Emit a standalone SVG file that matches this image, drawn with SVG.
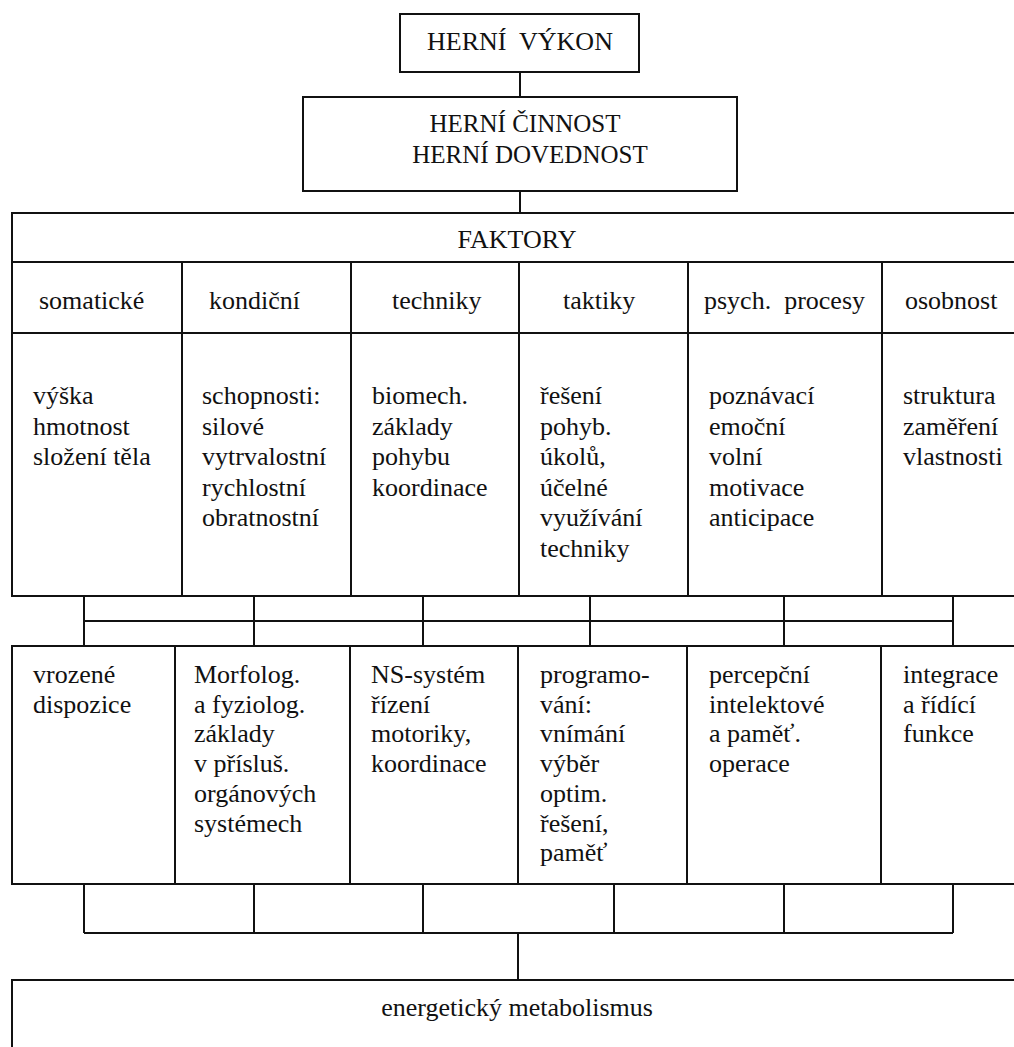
<svg xmlns="http://www.w3.org/2000/svg" width="1014" height="1047" viewBox="0 0 1014 1047">
<style>
rect{fill:none;stroke:#111;stroke-width:2}
line{stroke:#111;stroke-width:2}
.c{text-anchor:middle}
</style>
<rect x="0" y="0" width="1014" height="1047" style="fill:#fff;stroke:none"/>
<g id="connectors">
<line x1="520" y1="72" x2="520" y2="97"/>
<line x1="520" y1="191" x2="520" y2="213"/>
<line x1="84" y1="621" x2="953" y2="621"/>
<line x1="84" y1="597" x2="84" y2="646"/>
<line x1="254" y1="597" x2="254" y2="646"/>
<line x1="423" y1="597" x2="423" y2="646"/>
<line x1="590" y1="597" x2="590" y2="646"/>
<line x1="784" y1="597" x2="784" y2="646"/>
<line x1="953" y1="597" x2="953" y2="646"/>
<line x1="84" y1="933" x2="953" y2="933"/>
<line x1="84" y1="884" x2="84" y2="933"/>
<line x1="254" y1="884" x2="254" y2="933"/>
<line x1="423" y1="884" x2="423" y2="933"/>
<line x1="614" y1="884" x2="614" y2="933"/>
<line x1="784" y1="884" x2="784" y2="933"/>
<line x1="953" y1="884" x2="953" y2="933"/>
<line x1="518" y1="933" x2="518" y2="980"/>
</g>
<g id="herni-vykon">
<rect x="400" y="14" width="239" height="58"/>
<text font-family="Liberation Serif" font-size="26" fill="#111" class="c" x="520" y="50" xml:space="preserve">HERNÍ  VÝKON</text>
</g>
<g id="herni-cinnost">
<rect x="303" y="97" width="434" height="94"/>
<text font-family="Liberation Serif" font-size="25" fill="#111" class="c" x="525" y="132">HERNÍ ČINNOST</text>
<text font-family="Liberation Serif" font-size="25" fill="#111" class="c" x="530" y="163">HERNÍ DOVEDNOST</text>
</g>
<g id="faktory">
<rect x="12" y="213" width="1012" height="49"/>
<text font-family="Liberation Serif" font-size="26" fill="#111" class="c" x="517" y="248">FAKTORY</text>
</g>
<g id="somaticke">
<rect x="12" y="262" width="170" height="71"/>
<rect x="12" y="333" width="170" height="263"/>
<text font-family="Liberation Serif" font-size="26" fill="#111" x="39" y="309">somatické</text>
<text font-family="Liberation Serif" font-size="26" fill="#111" x="33" y="404">výška</text>
<text font-family="Liberation Serif" font-size="26" fill="#111" x="33" y="434.5">hmotnost</text>
<text font-family="Liberation Serif" font-size="26" fill="#111" x="33" y="465">složení těla</text>
</g>
<g id="kondicni">
<rect x="182" y="262" width="169" height="71"/>
<rect x="182" y="333" width="169" height="263"/>
<text font-family="Liberation Serif" font-size="26" fill="#111" x="209" y="309">kondiční</text>
<text font-family="Liberation Serif" font-size="26" fill="#111" x="202" y="404">schopnosti:</text>
<text font-family="Liberation Serif" font-size="26" fill="#111" x="202" y="434.5">silové</text>
<text font-family="Liberation Serif" font-size="26" fill="#111" x="202" y="465">vytrvalostní</text>
<text font-family="Liberation Serif" font-size="26" fill="#111" x="202" y="495.5">rychlostní</text>
<text font-family="Liberation Serif" font-size="26" fill="#111" x="202" y="526">obratnostní</text>
</g>
<g id="techniky">
<rect x="351" y="262" width="168" height="71"/>
<rect x="351" y="333" width="168" height="263"/>
<text font-family="Liberation Serif" font-size="26" fill="#111" x="392" y="309">techniky</text>
<text font-family="Liberation Serif" font-size="26" fill="#111" x="372" y="404">biomech.</text>
<text font-family="Liberation Serif" font-size="26" fill="#111" x="372" y="434.5">základy</text>
<text font-family="Liberation Serif" font-size="26" fill="#111" x="372" y="465">pohybu</text>
<text font-family="Liberation Serif" font-size="26" fill="#111" x="372" y="495.5">koordinace</text>
</g>
<g id="taktiky">
<rect x="519" y="262" width="169" height="71"/>
<rect x="519" y="333" width="169" height="263"/>
<text font-family="Liberation Serif" font-size="26" fill="#111" x="563" y="309">taktiky</text>
<text font-family="Liberation Serif" font-size="26" fill="#111" x="540" y="404">řešení</text>
<text font-family="Liberation Serif" font-size="26" fill="#111" x="540" y="434.5">pohyb.</text>
<text font-family="Liberation Serif" font-size="26" fill="#111" x="540" y="465">úkolů,</text>
<text font-family="Liberation Serif" font-size="26" fill="#111" x="540" y="495.5">účelné</text>
<text font-family="Liberation Serif" font-size="26" fill="#111" x="540" y="526">využívání</text>
<text font-family="Liberation Serif" font-size="26" fill="#111" x="540" y="556.5">techniky</text>
</g>
<g id="psych-procesy">
<rect x="688" y="262" width="194" height="71"/>
<rect x="688" y="333" width="194" height="263"/>
<text font-family="Liberation Serif" font-size="26" fill="#111" x="704" y="309" xml:space="preserve">psych.  procesy</text>
<text font-family="Liberation Serif" font-size="26" fill="#111" x="709" y="404">poznávací</text>
<text font-family="Liberation Serif" font-size="26" fill="#111" x="709" y="434.5">emoční</text>
<text font-family="Liberation Serif" font-size="26" fill="#111" x="709" y="465">volní</text>
<text font-family="Liberation Serif" font-size="26" fill="#111" x="709" y="495.5">motivace</text>
<text font-family="Liberation Serif" font-size="26" fill="#111" x="709" y="526">anticipace</text>
</g>
<g id="osobnost">
<rect x="882" y="262" width="142" height="71"/>
<rect x="882" y="333" width="142" height="263"/>
<text font-family="Liberation Serif" font-size="26" fill="#111" x="905" y="309">osobnost</text>
<text font-family="Liberation Serif" font-size="26" fill="#111" x="903" y="404">struktura</text>
<text font-family="Liberation Serif" font-size="26" fill="#111" x="903" y="434.5">zaměření</text>
<text font-family="Liberation Serif" font-size="26" fill="#111" x="903" y="465">vlastnosti</text>
</g>
<g id="vrozene">
<rect x="12" y="646" width="163" height="238"/>
<text font-family="Liberation Serif" font-size="26" fill="#111" x="33" y="683">vrozené</text>
<text font-family="Liberation Serif" font-size="26" fill="#111" x="33" y="712.7">dispozice</text>
</g>
<g id="morfolog">
<rect x="175" y="646" width="175" height="238"/>
<text font-family="Liberation Serif" font-size="26" fill="#111" x="194" y="683">Morfolog.</text>
<text font-family="Liberation Serif" font-size="26" fill="#111" x="194" y="712.7">a fyziolog.</text>
<text font-family="Liberation Serif" font-size="26" fill="#111" x="194" y="742.4">základy</text>
<text font-family="Liberation Serif" font-size="26" fill="#111" x="194" y="772.1">v přísluš.</text>
<text font-family="Liberation Serif" font-size="26" fill="#111" x="194" y="801.8">orgánových</text>
<text font-family="Liberation Serif" font-size="26" fill="#111" x="194" y="831.5">systémech</text>
</g>
<g id="ns-system">
<rect x="350" y="646" width="168" height="238"/>
<text font-family="Liberation Serif" font-size="26" fill="#111" x="371" y="683">NS-systém</text>
<text font-family="Liberation Serif" font-size="26" fill="#111" x="371" y="712.7">řízení</text>
<text font-family="Liberation Serif" font-size="26" fill="#111" x="371" y="742.4">motoriky,</text>
<text font-family="Liberation Serif" font-size="26" fill="#111" x="371" y="772.1">koordinace</text>
</g>
<g id="programovani">
<rect x="518" y="646" width="169" height="238"/>
<text font-family="Liberation Serif" font-size="26" fill="#111" x="540" y="683">programo-</text>
<text font-family="Liberation Serif" font-size="26" fill="#111" x="540" y="712.7">vání:</text>
<text font-family="Liberation Serif" font-size="26" fill="#111" x="540" y="742.4">vnímání</text>
<text font-family="Liberation Serif" font-size="26" fill="#111" x="540" y="772.1">výběr</text>
<text font-family="Liberation Serif" font-size="26" fill="#111" x="540" y="801.8">optim.</text>
<text font-family="Liberation Serif" font-size="26" fill="#111" x="540" y="831.5">řešení,</text>
<text font-family="Liberation Serif" font-size="26" fill="#111" x="540" y="861.2">paměť</text>
</g>
<g id="percepcni">
<rect x="687" y="646" width="194" height="238"/>
<text font-family="Liberation Serif" font-size="26" fill="#111" x="709" y="683">percepční</text>
<text font-family="Liberation Serif" font-size="26" fill="#111" x="709" y="712.7">intelektové</text>
<text font-family="Liberation Serif" font-size="26" fill="#111" x="709" y="742.4">a paměť.</text>
<text font-family="Liberation Serif" font-size="26" fill="#111" x="709" y="772.1">operace</text>
</g>
<g id="integrace">
<rect x="881" y="646" width="143" height="238"/>
<text font-family="Liberation Serif" font-size="26" fill="#111" x="903" y="683">integrace</text>
<text font-family="Liberation Serif" font-size="26" fill="#111" x="903" y="712.7">a řídící</text>
<text font-family="Liberation Serif" font-size="26" fill="#111" x="903" y="742.4">funkce</text>
</g>
<g id="energeticky-metabolismus">
<rect x="12" y="980" width="1012" height="100"/>
<text font-family="Liberation Serif" font-size="26" fill="#111" class="c" x="517" y="1016">energetický metabolismus</text>
</g>
</svg>
